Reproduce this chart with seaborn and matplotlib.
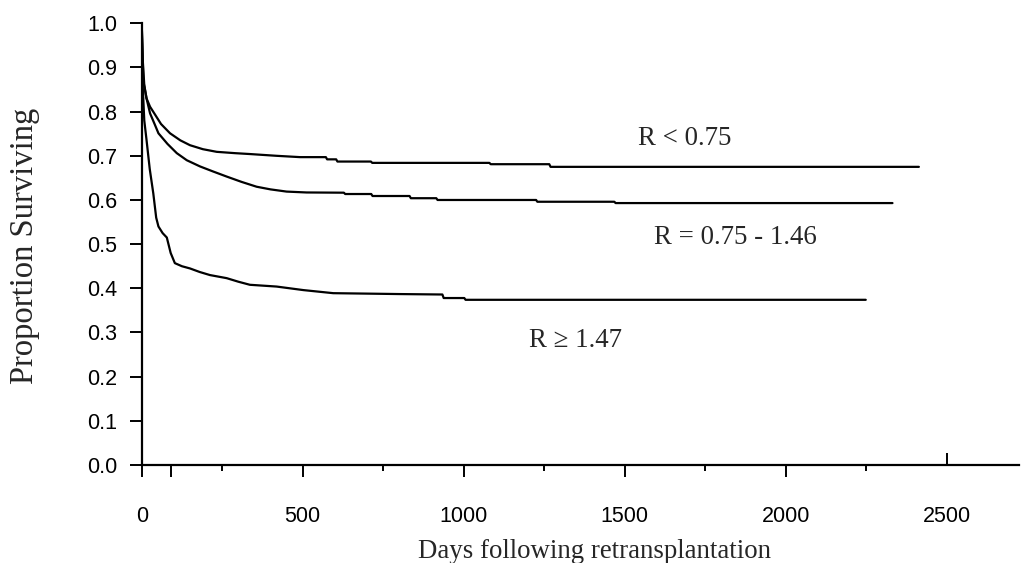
import matplotlib
matplotlib.use("Agg")
import matplotlib.lines as mlines
import matplotlib.pyplot as plt
import pandas as pd
import seaborn as sns

# Kaplan-Meier style survival after retransplantation, by R group
groups = ["R < 0.75", "R = 0.75 - 1.46", "R \u2265 1.47"]

low_days = [0, 2, 5, 15, 26, 40, 60, 88, 120, 150, 190, 233, 290, 336, 419, 492,
            572, 576, 604, 608, 712, 716, 1080, 1084, 1266, 1270, 2414]
low_surv = [1.0, 0.95, 0.87, 0.83, 0.811, 0.795, 0.772, 0.751, 0.735, 0.724, 0.715,
            0.709, 0.706, 0.704, 0.700, 0.697, 0.697, 0.692, 0.692, 0.687, 0.687,
            0.684, 0.684, 0.681, 0.681, 0.675, 0.675]

mid_days = [0, 3, 8, 15, 26, 40, 52, 80, 109, 140, 181, 220, 264, 310, 357, 400, 450,
            512, 628, 632, 713, 717, 832, 836, 915, 919, 1225, 1229, 1468, 1472, 2332]
mid_surv = [1.0, 0.92, 0.86, 0.83, 0.796, 0.772, 0.751, 0.727, 0.706, 0.690, 0.676,
            0.665, 0.653, 0.641, 0.630, 0.624, 0.619, 0.617, 0.6165, 0.6135, 0.6135,
            0.609, 0.609, 0.604, 0.604, 0.600, 0.600, 0.596, 0.596, 0.593, 0.593]

high_days = [0, 3, 8, 15, 25, 36, 45, 52, 65, 78, 90, 103, 125, 150, 180, 212, 264,
             300, 336, 419, 502, 595, 700, 800, 934, 938, 1002, 1006, 2249]
high_surv = [1.0, 0.86, 0.78, 0.736, 0.67, 0.615, 0.56, 0.54, 0.525, 0.515, 0.48,
             0.457, 0.45, 0.445, 0.437, 0.430, 0.423, 0.415, 0.408, 0.404, 0.396,
             0.389, 0.388, 0.387, 0.386, 0.378, 0.378, 0.374, 0.374]

# label anchor points (days, proportion)
label_days = [1686, 1843, 1346]
label_surv = [0.740, 0.514, 0.281]

x_ticks = [0, 90, 500, 1000, 1500, 2000, 2500]
x_tick_labels = ["0", "", "500", "1000", "1500", "2000", "2500"]
x_minor = [250, 750, 1250, 1750, 2250]
y_ticks = [i / 10 for i in range(11)]

df = pd.concat([
    pd.DataFrame({"days": d, "surv": s, "group": g})
    for g, d, s in zip(groups, [low_days, mid_days, high_days],
                       [low_surv, mid_surv, high_surv])
], ignore_index=True)

sns.set_style("white")
sans = ["Liberation Sans", "DejaVu Sans"]
serif = ["Liberation Serif", "DejaVu Serif"]

fig = plt.figure(figsize=(10.21, 5.63), dpi=100)
ax = fig.add_axes([141.7 / 1021, 98 / 563, (1019 - 141.7) / 1021, 441.7 / 563])

sns.lineplot(data=df, x="days", y="surv", units="group", estimator=None,
             color="black", linewidth=1.6, ax=ax)

ax.set_xlim(0, 2725)
ax.set_ylim(0, 1.0)
sns.despine(ax=ax)
for side in ["left", "bottom"]:
    ax.spines[side].set_linewidth(1.6)
    ax.spines[side].set_color("black")

ax.set_xticks(x_ticks)
ax.set_xticklabels(x_tick_labels, family=sans, fontsize=15.5)
ax.set_xticks(x_minor, minor=True)
ax.set_yticks(y_ticks)
ax.set_yticklabels([f"{v:.1f}" for v in y_ticks], family=sans, fontsize=15.5)
ax.tick_params(axis="x", which="major", bottom=True, direction="out", length=8.5,
               width=1.4, pad=21, colors="black")
ax.tick_params(axis="x", which="minor", bottom=True, direction="out", length=4.5,
               width=1.4, colors="black")
ax.tick_params(axis="y", left=True, direction="out", length=8.6, width=1.4, pad=9,
               colors="black")
# the 2500 tick points upward in the original
ax.xaxis.get_major_ticks()[-1].tick1line.set_marker(mlines.TICKUP)

ax.set_xlabel("")
ax.set_ylabel("")
fig.text(594 / 1021, 1 - 558 / 563, "Days following retransplantation",
         family=serif, fontsize=19.4, ha="center", va="baseline")
fig.text(25 / 1021, 1 - 246 / 563, "Proportion Surviving", family=serif,
         fontsize=23.5, rotation=90, ha="center", va="center")

for g, xd, ys in zip(groups, label_days, label_surv):
    ax.text(xd, ys, g, family=serif, fontsize=19.4, ha="center", va="center")

fig.savefig("out.png", dpi=100)
plt.close(fig)
